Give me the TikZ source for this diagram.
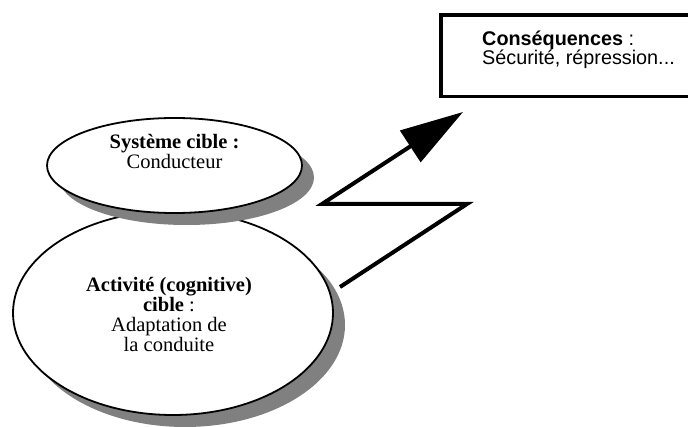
\documentclass[tikz,border=0pt]{standalone}
\usepackage{fontspec}
\setmainfont{Liberation Serif}
\newfontfamily\arialf{Liberation Sans}
\usetikzlibrary{arrows.meta,shadows,shapes.geometric}
\definecolor{shadowgray}{HTML}{808080}
\tikzset{
  ell/.style={ellipse, draw=black, line width=1.8pt, fill=white, inner sep=0pt,
    drop shadow={shadow xshift=12pt, shadow yshift=-12pt, fill=shadowgray, opacity=1}},
  serif/.style={align=center, font=\fontsize{20.5}{20}\selectfont, inner sep=0pt},
  sanstxt/.style={align=left, font=\arialf\fontsize{19.8}{18.5}\selectfont, inner sep=0pt},
  boltline/.style={line width=4pt, line join=miter, miter limit=10},
  boxstyle/.style={draw=black, line width=3.3pt, fill=white}
}
\begin{document}
\begin{tikzpicture}[x=1pt,y=-1pt]
\useasboundingbox (0,0) rectangle (688,427);
\clip (0,0) rectangle (688,427);
% lower ellipse
\node[ell, minimum width=320pt, minimum height=204pt] (act) at (173,313) {};
\node[serif, anchor=base] (acttxt) at (169,351.5)
  {\textbf{Activité (cognitive)}\\\textbf{cible} :\\Adaptation de\\la conduite};
% upper ellipse
\node[ell, minimum width=255pt, minimum height=95pt] (sys) at (174.5,165.5) {};
\node[serif, anchor=base] (systxt) at (174.5,169)
  {\textbf{Système cible :}\\Conducteur};
% consequences box
\node[boxstyle, anchor=north west, minimum width=290pt, minimum height=81.7pt] (cons) at (439.4,13.4) {};
\node[sanstxt, anchor=base west] (constxt) at (482,65)
  {\textbf{Conséquences} :\\Sécurité, répression...};
% zigzag arrow
\coordinate (z0) at (340,287);
\coordinate (z1) at (467,204);
\coordinate (z2) at (322,204);
\coordinate (z3) at (463,112);
\draw[boltline, -{Triangle[length=63pt,width=37pt]}] (z0) -- (z1) -- (z2) -- (z3);
\end{tikzpicture}
\end{document}
